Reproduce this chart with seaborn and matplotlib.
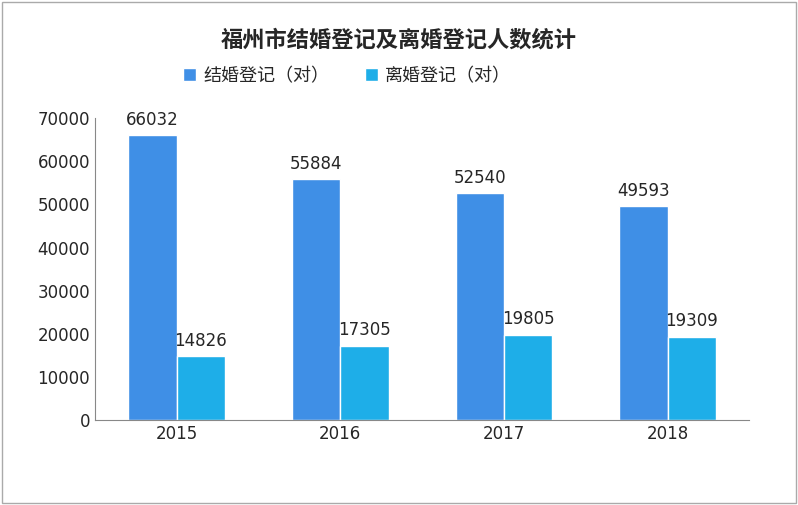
import matplotlib
matplotlib.use('Agg')
import matplotlib.pyplot as plt
import seaborn as sns
import pandas as pd

years = ['2015', '2016', '2017', '2018']
marriage = [66032, 55884, 52540, 49593]
divorce = [14826, 17305, 19805, 19309]
series = ['结婚登记（对）', '离婚登记（对）']

df = pd.DataFrame({
    'year': years * 2,
    'value': marriage + divorce,
    'kind': [series[0]] * 4 + [series[1]] * 4,
})

sns.set_style('white')
plt.rcParams['font.family'] = ['Noto Sans CJK SC', 'DejaVu Sans']

fig = plt.figure(figsize=(7.98, 5.05), dpi=100)
ax = fig.add_axes([0.119, 0.168, 0.82, 0.598])
sns.barplot(data=df, x='year', y='value', hue='kind', ax=ax,
            palette=['#3f8fe6', '#1eaee8'], width=0.59, saturation=1, legend=True)

for cont in ax.containers:
    for bar in cont:
        h = bar.get_height()
        ax.text(bar.get_x() + bar.get_width() / 2, h + 1500, f'{int(h)}',
                ha='center', va='bottom', fontsize=12, family='DejaVu Sans')

ax.set_ylim(0, 70000)
ax.set_yticks(range(0, 70001, 10000))
ax.set_xlabel('')
ax.set_ylabel('')
ax.tick_params(labelsize=12, length=0)
for lbl in ax.get_xticklabels() + ax.get_yticklabels():
    lbl.set_family('DejaVu Sans')
for s in ['top', 'right']:
    ax.spines[s].set_visible(False)
ax.spines['left'].set_color('#888888')
ax.spines['bottom'].set_color('#888888')

ax.legend(loc='center left', bbox_to_anchor=(0.11, 1.14), ncol=2, frameon=False,
          fontsize=13, handlelength=0.7, handleheight=0.7, columnspacing=2,
          handletextpad=0.4)

fig.text(0.5, 0.92, '福州市结婚登记及离婚登记人数统计', ha='center', va='center',
         fontsize=16, fontweight='bold')
fig.patches.append(plt.Rectangle((0.003, 0.003), 0.994, 0.994, transform=fig.transFigure,
                                 fill=False, edgecolor='#aaaaaa', lw=1))
fig.savefig('out.png', dpi=100)
